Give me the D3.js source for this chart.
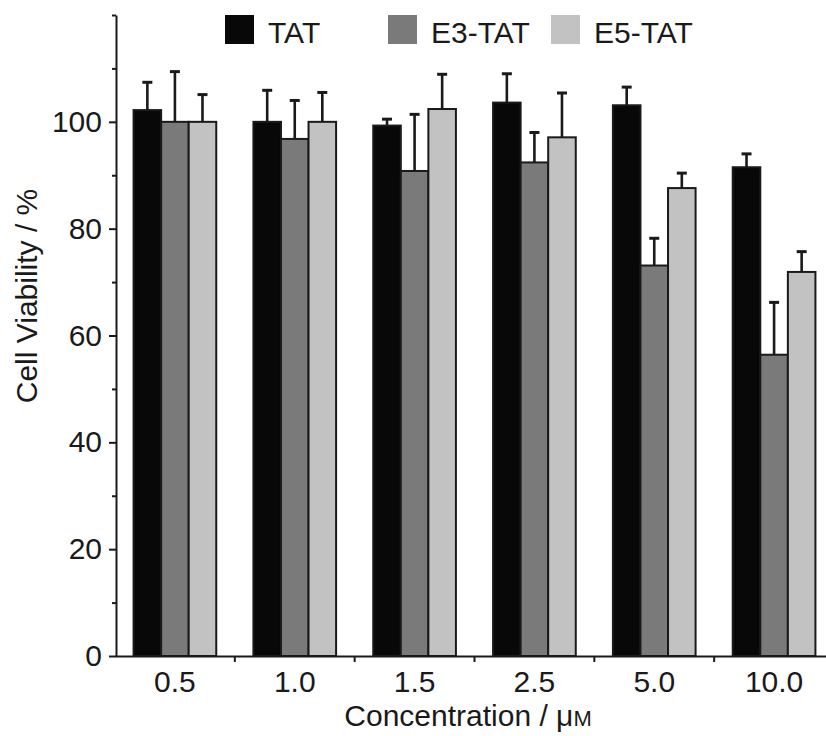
<!DOCTYPE html>
<html>
<head>
<meta charset="utf-8">
<script src="https://cdn.jsdelivr.net/npm/d3@7"></script>
<style>
  html, body { margin: 0; padding: 0; background: #fff; }
  svg { display: block; }
  text { font-family: "Liberation Sans", Arial, Helvetica, sans-serif; fill: #1a1a1a; }
</style>
</head>
<body>
<svg id="chart" width="826" height="736"></svg>
<script>
// ---- data ----
const categories = ["0.5", "1.0", "1.5", "2.5", "5.0", "10.0"];
const seriesNames = ["TAT", "E3-TAT", "E5-TAT"];
const tatValues  = [102.2, 100.0,  99.3, 103.6, 103.1, 91.5];
const tatErrors  = [  5.2,   5.9,   1.2,   5.4,   3.4,  2.5];
const e3Values   = [100.0,  96.8,  90.8,  92.4,  73.1, 56.4];
const e3Errors   = [  9.4,   7.2,  10.6,   5.6,   5.1,  9.8];
const e5Values   = [100.0, 100.0, 102.4,  97.1,  87.6, 71.9];
const e5Errors   = [  5.1,   5.5,   6.5,   8.3,   2.8,  3.8];
const yMajorTicks = [0, 20, 40, 60, 80, 100];
const yMinorTicks = [10, 30, 50, 70, 90, 110, 120];
const colors = ["#080808", "#7a7a7a", "#c2c2c2"];

const seriesValues = [tatValues, e3Values, e5Values];
const seriesErrors = [tatErrors, e3Errors, e5Errors];

// ---- layout ----
const svg = d3.select("#chart");
const axisX = 116, axisBottom = 656, axisTop = 15;

const y = d3.scaleLinear().domain([0, 120]).range([axisBottom, axisTop]);
const x0 = d3.scaleBand().domain(categories).range([115, 834])
  .paddingInner(0.31).paddingOuter(0.155);
const x1 = d3.scaleBand().domain(seriesNames).range([0, x0.bandwidth()]);

// bars
const table = categories.map((c, i) => ({
  cat: c,
  items: seriesNames.map((s, j) => ({ s, j, v: seriesValues[j][i], e: seriesErrors[j][i] }))
}));

const groups = svg.append("g").selectAll("g").data(table).join("g")
  .attr("transform", d => `translate(${x0(d.cat)},0)`);

// error bars (behind bars)
groups.selectAll("g.err").data(d => d.items).join("g").attr("class", "err")
  .each(function(d) {
    const g = d3.select(this);
    const cx = x1(d.s) + x1.bandwidth() / 2;
    g.append("line").attr("x1", cx).attr("x2", cx)
      .attr("y1", y(d.v)).attr("y2", y(d.v + d.e))
      .attr("stroke", "#1a1a1a").attr("stroke-width", 2.6);
    g.append("line").attr("x1", cx - 5).attr("x2", cx + 5)
      .attr("y1", y(d.v + d.e)).attr("y2", y(d.v + d.e))
      .attr("stroke", "#1a1a1a").attr("stroke-width", 3);
  });

groups.selectAll("rect").data(d => d.items).join("rect")
  .attr("x", d => x1(d.s))
  .attr("width", x1.bandwidth())
  .attr("y", d => y(d.v))
  .attr("height", d => y(0) - y(d.v))
  .attr("fill", d => colors[d.j])
  .attr("stroke", "#1a1a1a")
  .attr("stroke-width", 2);

// y axis
const yAxis = svg.append("g").attr("transform", `translate(${axisX},0)`)
  .call(d3.axisLeft(y).tickValues(yMajorTicks).tickSize(7).tickPadding(7).tickSizeOuter(0));
svg.append("g").attr("transform", `translate(${axisX},0)`)
  .call(d3.axisLeft(y).tickValues(yMinorTicks).tickSize(4).tickFormat("").tickSizeOuter(0))
  .select(".domain").remove();
yAxis.selectAll("text").style("font-size", "30px");

// x axis
const xAxis = svg.append("g").attr("transform", `translate(0,${axisBottom})`)
  .call(d3.axisBottom(x0).tickSize(0).tickPadding(15).tickSizeOuter(0));
xAxis.selectAll("text").style("font-size", "30px");
// boundary ticks between groups
const boundaries = categories.slice(1).map(c => x0(c) - x0.step() * x0.paddingInner() / 2);
xAxis.selectAll("line.bt").data(boundaries).join("line").attr("class", "bt")
  .attr("x1", d => d).attr("x2", d => d).attr("y1", 0).attr("y2", 6)
  .attr("stroke", "#1a1a1a").attr("stroke-width", 2);

svg.selectAll(".domain").attr("stroke", "#1a1a1a").attr("stroke-width", 2);
svg.selectAll(".tick line").attr("stroke", "#1a1a1a").attr("stroke-width", 2);

// axis titles
svg.append("text")
  .attr("transform", "translate(37,296) rotate(-90)")
  .attr("text-anchor", "middle")
  .style("font-size", "30px")
  .text("Cell Viability / %");

const xt = svg.append("text")
  .attr("x", 468).attr("y", 726)
  .attr("text-anchor", "middle")
  .style("font-size", "30px");
xt.append("tspan").text("Concentration / μ");
xt.append("tspan").style("font-size", "22px").text("M");

// legend
const legendX = [225, 388, 551];
const legend = svg.append("g").selectAll("g").data(seriesNames).join("g")
  .attr("transform", (d, i) => `translate(${legendX[i]},15)`);
legend.append("rect").attr("width", 29).attr("height", 29)
  .attr("fill", (d, i) => colors[i]);
legend.append("text").attr("x", 43).attr("y", 28)
  .style("font-size", "30px").text(d => d);
</script>
</body>
</html>
